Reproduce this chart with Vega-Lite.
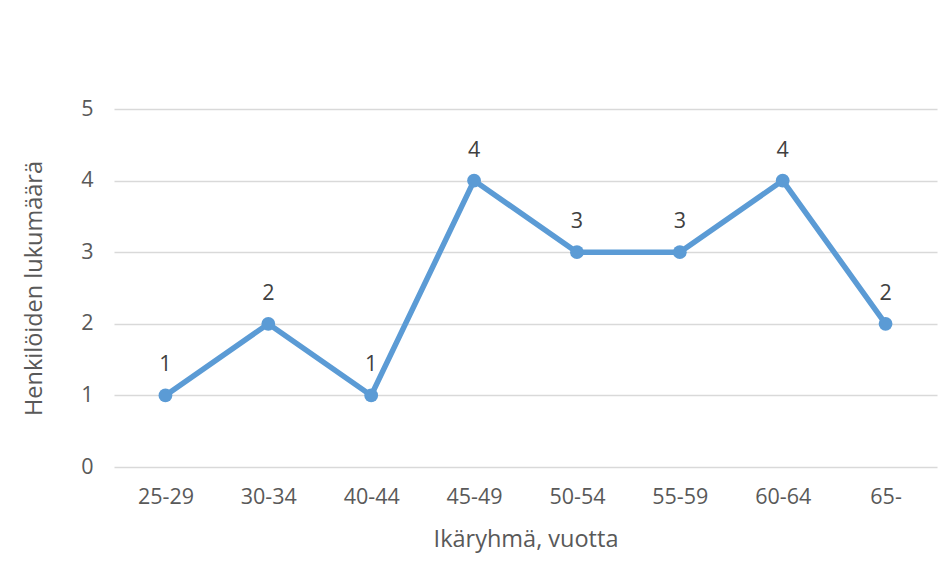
{
  "$schema": "https://vega.github.io/schema/vega-lite/v6.json",
  "autosize": "none",
  "width": 823,
  "height": 358,
  "padding": {"left": 114, "top": 109, "right": 15, "bottom": 114},
  "background": "white",
  "config": {
    "view": {"stroke": null},
    "font": "Open Sans",
    "axis": {
      "labelFont": "Open Sans",
      "titleFont": "Open Sans",
      "labelColor": "#595959",
      "titleColor": "#595959",
      "labelFontSize": 21.5,
      "titleFontSize": 23.5,
      "titleFontWeight": "normal",
      "ticks": false,
      "domain": false
    }
  },
  "data": {
    "values": [
      {"ryhma": "25-29", "lkm": 1},
      {"ryhma": "30-34", "lkm": 2},
      {"ryhma": "40-44", "lkm": 1},
      {"ryhma": "45-49", "lkm": 4},
      {"ryhma": "50-54", "lkm": 3},
      {"ryhma": "55-59", "lkm": 3},
      {"ryhma": "60-64", "lkm": 4},
      {"ryhma": "65-", "lkm": 2}
    ]
  },
  "encoding": {
    "x": {
      "field": "ryhma",
      "type": "ordinal",
      "sort": null,
      "scale": {"type": "point", "padding": 0.5},
      "axis": {
        "title": "Ikäryhmä, vuotta",
        "labelAngle": 0,
        "labelPadding": 19,
        "titlePadding": 20,
        "grid": false
      }
    },
    "y": {
      "field": "lkm",
      "type": "quantitative",
      "scale": {"domain": [0, 5], "nice": false},
      "axis": {
        "title": "Henkilöiden lukumäärä",
        "values": [0, 1, 2, 3, 4, 5],
        "labelPadding": 21,
        "titlePadding": 34,
        "grid": true,
        "gridColor": "#d9d9d9",
        "gridWidth": 1.5
      }
    }
  },
  "layer": [
    {
      "mark": {"type": "line", "color": "#5b9bd5", "strokeWidth": 5.5}
    },
    {
      "mark": {"type": "point", "filled": true, "opacity": 1, "color": "#5b9bd5", "size": 190}
    },
    {
      "mark": {"type": "text", "dy": -30, "fontSize": 21.5, "color": "#404040", "font": "Open Sans"},
      "encoding": {"text": {"field": "lkm", "type": "quantitative"}}
    }
  ]
}
